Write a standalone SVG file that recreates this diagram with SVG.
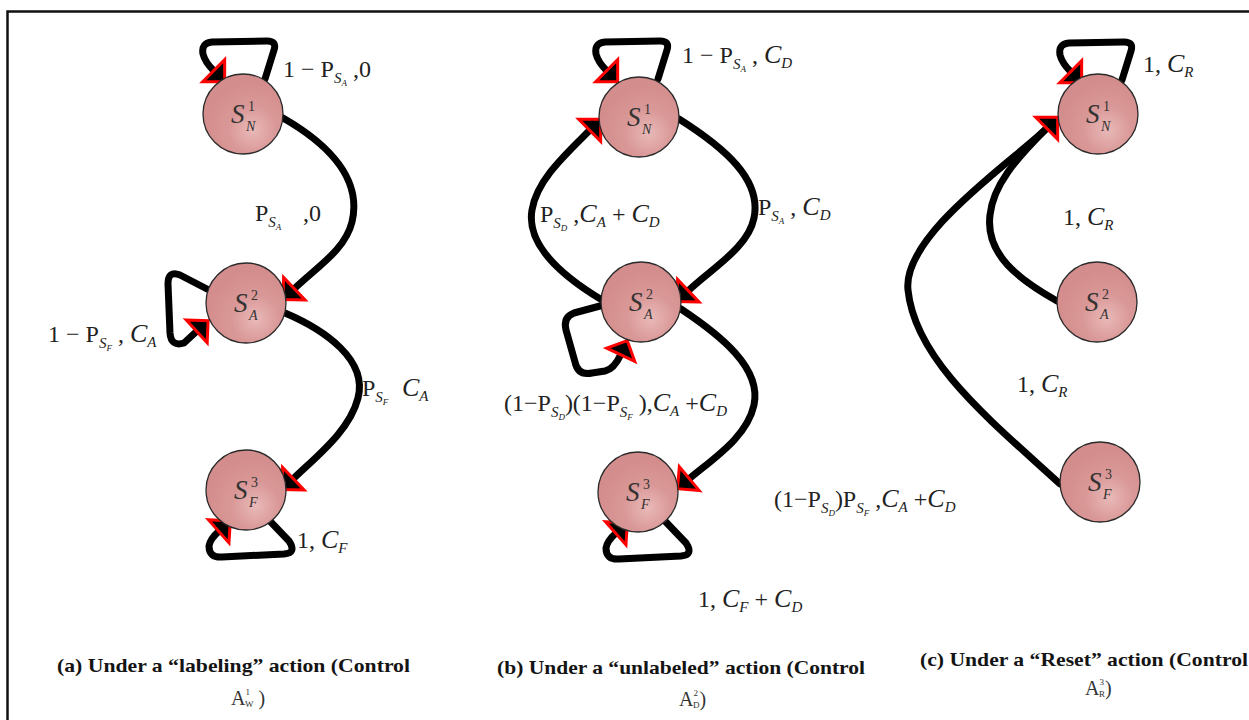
<svg xmlns="http://www.w3.org/2000/svg" width="1249" height="720" viewBox="0 0 1249 720">
<defs>
<radialGradient id="nodeFill" cx="0.62" cy="0.7" r="0.6">
<stop offset="0" stop-color="#e9b9b8"/>
<stop offset="0.5" stop-color="#d99897"/>
<stop offset="1" stop-color="#d38d8c"/>
</radialGradient>
<marker id="arr" markerUnits="userSpaceOnUse" markerWidth="40" markerHeight="40" refX="0" refY="0" orient="auto" overflow="visible">
<path d="M0,-15.5 L15.5,0 L0,15.5 Z" fill="#000" stroke="#ff0000" stroke-width="3" stroke-linejoin="miter"/>
</marker>
<style>
.edge{fill:none;stroke:#000;stroke-width:7;stroke-linecap:round;stroke-linejoin:round}
.arrow{marker-end:url(#arr)}
.node circle{fill:url(#nodeFill);stroke:#2a2a2a;stroke-width:1.3}
.nt{font-family:"Liberation Serif",serif;fill:#333;font-style:italic}
.ns{font-size:27px}
.nsup{font-size:14px;font-style:normal}
.nsub{font-size:14px}
.lbl{font-family:"Liberation Serif",serif;font-size:24px;fill:#222}
.s1{font-size:15px;font-style:italic}
.s2{font-size:9px;font-style:italic}
.it{font-style:italic;font-size:26px}
.cs{font-size:15px;font-style:italic}
.cap{font-family:"Liberation Serif",serif;font-size:19px;font-weight:bold;fill:#141414}
.cap2{font-family:"Liberation Serif",serif;font-size:20px;fill:#333}
.tiny{font-size:9px}
</style>
</defs>
<rect width="1249" height="720" fill="#fff"/>
<path d="M7.5,740 L7.5,11.5 L1260,11.5" fill="none" stroke="#111" stroke-width="2.5"/>

<g id="connectors">
<!-- panel a -->
<path class="edge arrow" d="M265,79 L274,50 Q277,41 267,41 L212,42 Q201,43 203,54 Q205,62 213.7,70.7"/>
<path class="edge arrow" d="M283,118 C330,145 362,180 352,222 C345,250 318,266 294.3,288.7"/>
<path class="edge arrow" d="M207,289 L180,275 Q168,270 168,284 L170,333 Q171,347 184,343 L196.7,331.3"/>
<path class="edge arrow" d="M285,313 C325,330 368,360 358,398 C350,430 318,455 293.3,478.7"/>
<path class="edge arrow" d="M267,518 L289,541 Q297,553 284,554 L222,557 Q209,558 209,546 Q210,539 218.7,531.3"/>
<!-- panel b -->
<path class="edge arrow" d="M658,79 L667,50 Q670,41 660,41 L605,42 Q594,43 596,54 Q598,62 606.7,70.7"/>
<path class="edge arrow" d="M679,119 C725,148 762,180 754,218 C748,248 712,268 688.3,290.7"/>
<path class="edge arrow" d="M602,300 C562,276 526,245 532,210 C537,180 565,155 589.7,130.3"/>
<path class="edge arrow" d="M600,306 L574,313 Q563,317 566,330 L575,362 Q578,376 592,373 L605,371 Q614,369 620.7,354.7"/>
<path class="edge arrow" d="M681,309 C720,335 762,368 754,405 C747,437 714,458 689.3,478.7"/>
<path class="edge arrow" d="M664,520 L686,543 Q694,555 681,556 L619,559 Q606,560 606,548 Q607,541 615.7,533.3"/>
<!-- panel c -->
<path class="edge arrow" d="M1122,80 L1131,51 Q1134,42 1124,42 L1069,43 Q1058,44 1060,55 Q1062,63 1070.7,71.7"/>
<path class="edge" d="M1057,301 C1020,280 985,255 990,215 C993,185 1016,159 1046.7,128.3"/>
<path class="edge arrow" d="M1060,484 C990,420 915,360 908,290 C902,235 1016,159 1046.7,128.3"/>
</g>

<!-- panel a nodes -->
<g id="a-SN1" class="node"><circle cx="243" cy="114" r="40"/><text class="nt"><tspan class="ns" x="231" y="123">S</tspan><tspan class="nsup" x="248" y="111">1</tspan><tspan class="nsub" x="246" y="131">N</tspan></text></g>
<g id="a-SA2" class="node"><circle cx="246" cy="303" r="40"/><text class="nt"><tspan class="ns" x="234" y="312">S</tspan><tspan class="nsup" x="251" y="300">2</tspan><tspan class="nsub" x="249" y="320">A</tspan></text></g>
<g id="a-SF3" class="node"><circle cx="246" cy="490" r="40"/><text class="nt"><tspan class="ns" x="234" y="499">S</tspan><tspan class="nsup" x="251" y="487">3</tspan><tspan class="nsub" x="249" y="507">F</tspan></text></g>
<!-- panel b nodes -->
<g id="b-SN1" class="node"><circle cx="639" cy="117" r="40"/><text class="nt"><tspan class="ns" x="627" y="126">S</tspan><tspan class="nsup" x="644" y="114">1</tspan><tspan class="nsub" x="642" y="134">N</tspan></text></g>
<g id="b-SA2" class="node"><circle cx="641" cy="302" r="40"/><text class="nt"><tspan class="ns" x="629" y="311">S</tspan><tspan class="nsup" x="646" y="299">2</tspan><tspan class="nsub" x="644" y="319">A</tspan></text></g>
<g id="b-SF3" class="node"><circle cx="638" cy="492" r="40"/><text class="nt"><tspan class="ns" x="626" y="501">S</tspan><tspan class="nsup" x="643" y="489">3</tspan><tspan class="nsub" x="641" y="509">F</tspan></text></g>
<!-- panel c nodes -->
<g id="c-SN1" class="node"><circle cx="1098" cy="114" r="40"/><text class="nt"><tspan class="ns" x="1086" y="123">S</tspan><tspan class="nsup" x="1103" y="111">1</tspan><tspan class="nsub" x="1101" y="131">N</tspan></text></g>
<g id="c-SA2" class="node"><circle cx="1097" cy="302" r="40"/><text class="nt"><tspan class="ns" x="1085" y="311">S</tspan><tspan class="nsup" x="1102" y="299">2</tspan><tspan class="nsub" x="1100" y="319">A</tspan></text></g>
<g id="c-SF3" class="node"><circle cx="1100" cy="482" r="40"/><text class="nt"><tspan class="ns" x="1088" y="491">S</tspan><tspan class="nsup" x="1105" y="479">3</tspan><tspan class="nsub" x="1103" y="499">F</tspan></text></g>

<g id="labels">
<!-- panel a -->
<text class="lbl" x="283" y="77">1 − P<tspan class="s1" dy="6">S</tspan><tspan class="s2" dy="3">A</tspan><tspan dy="-9"> ,0</tspan></text>
<text class="lbl" x="255" y="221">P<tspan class="s1" dy="6">S</tspan><tspan class="s2" dy="3">A</tspan><tspan x="303" dy="-9">,0</tspan></text>
<text class="lbl" x="48" y="342">1 − P<tspan class="s1" dy="6">S</tspan><tspan class="s2" dy="3">F</tspan><tspan dy="-9"> , </tspan><tspan class="it">C</tspan><tspan class="cs" dy="5">A</tspan></text>
<text class="lbl" x="362" y="396">P<tspan class="s1" dy="6">S</tspan><tspan class="s2" dy="3">F</tspan><tspan x="402" dy="-9" class="it">C</tspan><tspan class="cs" dy="5">A</tspan></text>
<text class="lbl" x="297" y="548">1, <tspan class="it">C</tspan><tspan class="cs" dy="5">F</tspan></text>
<!-- panel b -->
<text class="lbl" x="682" y="63">1 − P<tspan class="s1" dy="6">S</tspan><tspan class="s2" dy="3">A</tspan><tspan dy="-9"> , </tspan><tspan class="it">C</tspan><tspan class="cs" dy="5">D</tspan></text>
<text class="lbl" x="758" y="215">P<tspan class="s1" dy="6">S</tspan><tspan class="s2" dy="3">A</tspan><tspan dy="-9"> , </tspan><tspan class="it">C</tspan><tspan class="cs" dy="5">D</tspan></text>
<text class="lbl" x="540" y="222">P<tspan class="s1" dy="6">S</tspan><tspan class="s2" dy="3">D</tspan><tspan dy="-9"> ,</tspan><tspan class="it">C</tspan><tspan class="cs" dy="5">A</tspan><tspan dy="-5"> + </tspan><tspan class="it">C</tspan><tspan class="cs" dy="5">D</tspan></text>
<text class="lbl" x="504" y="411">(1−P<tspan class="s1" dy="6">S</tspan><tspan class="s2" dy="3">D</tspan><tspan dy="-9">)(1−P</tspan><tspan class="s1" dy="6">S</tspan><tspan class="s2" dy="3">F</tspan><tspan dy="-9"> ),</tspan><tspan class="it">C</tspan><tspan class="cs" dy="5">A</tspan><tspan dy="-5"> +</tspan><tspan class="it">C</tspan><tspan class="cs" dy="5">D</tspan></text>
<text class="lbl" x="774" y="507">(1−P<tspan class="s1" dy="6">S</tspan><tspan class="s2" dy="3">D</tspan><tspan dy="-9">)P</tspan><tspan class="s1" dy="6">S</tspan><tspan class="s2" dy="3">F</tspan><tspan dy="-9"> ,</tspan><tspan class="it">C</tspan><tspan class="cs" dy="5">A</tspan><tspan dy="-5"> +</tspan><tspan class="it">C</tspan><tspan class="cs" dy="5">D</tspan></text>
<text class="lbl" x="698" y="607">1, <tspan class="it">C</tspan><tspan class="cs" dy="5">F</tspan><tspan dy="-5"> + </tspan><tspan class="it">C</tspan><tspan class="cs" dy="5">D</tspan></text>
<!-- panel c -->
<text class="lbl" x="1143" y="72">1, <tspan class="it">C</tspan><tspan class="cs" dy="5">R</tspan></text>
<text class="lbl" x="1063" y="225">1, <tspan class="it">C</tspan><tspan class="cs" dy="5">R</tspan></text>
<text class="lbl" x="1017" y="392">1, <tspan class="it">C</tspan><tspan class="cs" dy="5">R</tspan></text>
</g>

<g id="captions">
<text class="cap" x="57" y="672" textLength="353" lengthAdjust="spacingAndGlyphs">(a) Under a “labeling” action (Control</text>
<text class="cap2" x="231" y="705">A<tspan class="tiny" dy="-10">1</tspan><tspan class="tiny" dx="-5" dy="12">W</tspan><tspan dy="-2"> )</tspan></text>
<text class="cap" x="497" y="674" textLength="368" lengthAdjust="spacingAndGlyphs">(b) Under a “unlabeled” action (Control</text>
<text class="cap2" x="679" y="706">A<tspan class="tiny" dy="-10">2</tspan><tspan class="tiny" dx="-5" dy="12">D</tspan><tspan dy="-2">)</tspan></text>
<text class="cap" x="920" y="666" textLength="328" lengthAdjust="spacingAndGlyphs">(c) Under a “Reset” action (Control</text>
<text class="cap2" x="1085" y="695">A<tspan class="tiny" dy="-10">3</tspan><tspan class="tiny" dx="-5" dy="12">R</tspan><tspan dy="-2">)</tspan></text>
</g>
</svg>
